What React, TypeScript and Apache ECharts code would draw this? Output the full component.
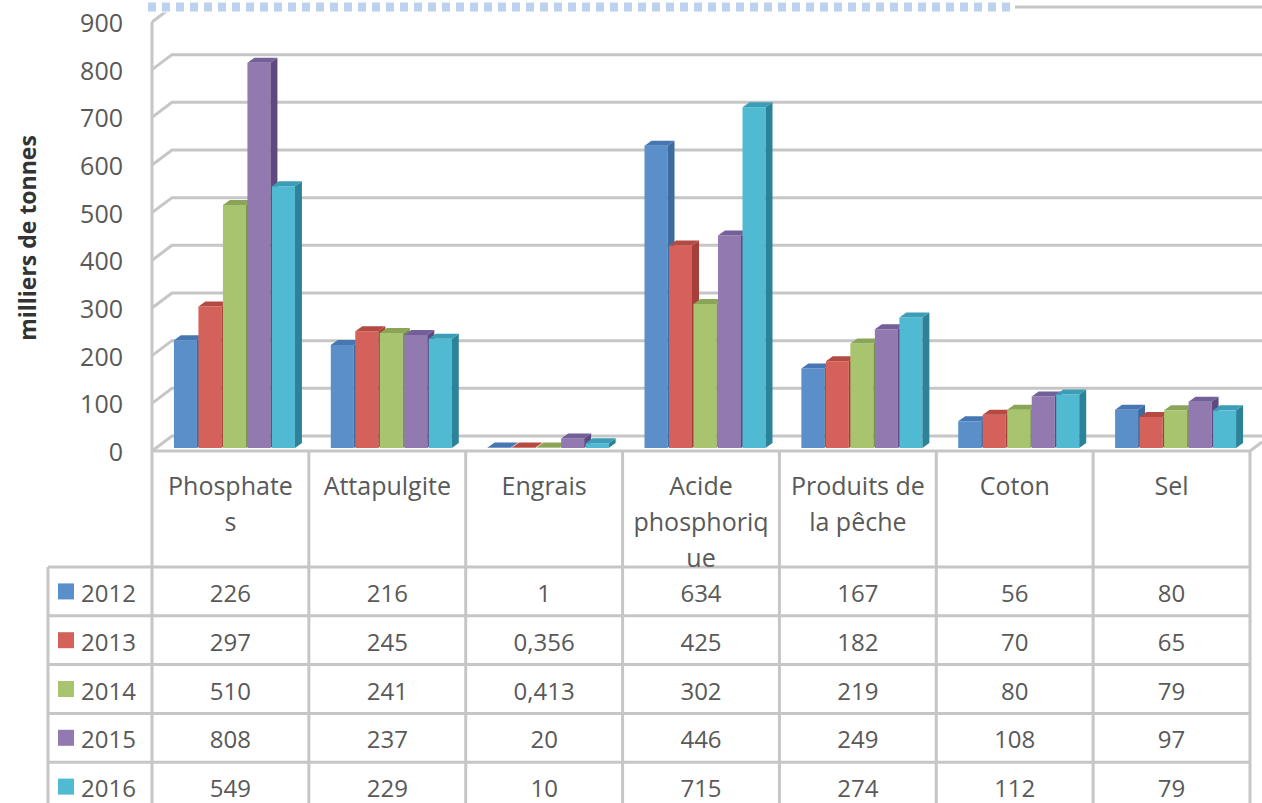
import React, { useEffect, useRef } from "react";
import * as echarts from "echarts";

// ---------- data ----------
const categories = ["Phosphates", "Attapulgite", "Engrais", "Acide phosphorique", "Produits de la pêche", "Coton", "Sel"];
const headerLabels = ["Phosphate\ns", "Attapulgite", "Engrais", "Acide\nphosphoriq\nue", "Produits de\nla pêche", "Coton", "Sel"];
const years = ["2012", "2013", "2014", "2015", "2016"];
const v2012 = [226, 216, 1, 634, 167, 56, 80];
const v2013 = [297, 245, 0.356, 425, 182, 70, 65];
const v2014 = [510, 241, 0.413, 302, 219, 80, 79];
const v2015 = [808, 237, 20, 446, 249, 108, 97];
const v2016 = [549, 229, 10, 715, 274, 112, 79];
const seriesValues = [v2012, v2013, v2014, v2015, v2016];
const yTicks = [0, 100, 200, 300, 400, 500, 600, 700, 800, 900];
const yTitle = "milliers de tonnes";

// ---------- style ----------
const frontColors = ["#5b8fca", "#d5625a", "#a8c46e", "#9279b0", "#4fbad1"];
const sideColors = ["#3d6a9f", "#a63f39", "#7a9748", "#5f4a80", "#2c8399"];
const topColors = ["#4677b3", "#b54a43", "#8aa557", "#73609a", "#3b9db6"];
const FONT = "'Open Sans', 'Noto Sans', sans-serif";
const TEXT = "#595959";
const LINE = "#c6c6c6";

const W = 1262;
const H = 803;
const GL = 152; // grid left
const GR = 1250; // grid right
const GT = 22; // grid top (900, front plane)
const GB = 451; // grid bottom (0, front plane)
const DX = 20; // wall depth
const DY = -15;
const TABLE_HEAD_BOTTOM = 567;
const ROW_H = 48.8;
const ROW_LABEL_LEFT = 48;

const fmt = (v: number) => String(v).replace(".", ",");

export default function App() {
  const ref = useRef<HTMLDivElement>(null);

  useEffect(() => {
    if (!ref.current) return;
    const chart = echarts.init(ref.current, undefined, { renderer: "svg" });

    const colW = (GR - GL) / categories.length;
    const graphic: any[] = [];

    // left wall front edge + table vertical lines
    graphic.push({
      type: "line",
      shape: { x1: GL, y1: GT, x2: GL, y2: H },
      style: { stroke: LINE, lineWidth: 3 },
      z: 1,
    });
    for (let i = 1; i <= categories.length; i++) {
      const x = GL + i * colW;
      graphic.push({
        type: "line",
        shape: { x1: x, y1: GB, x2: x, y2: H },
        style: { stroke: LINE, lineWidth: 3 },
      });
    }
    graphic.push({
      type: "line",
      shape: { x1: ROW_LABEL_LEFT, y1: TABLE_HEAD_BOTTOM, x2: ROW_LABEL_LEFT, y2: H },
      style: { stroke: LINE, lineWidth: 3 },
    });
    for (let r = 0; r <= years.length; r++) {
      const y = TABLE_HEAD_BOTTOM + r * ROW_H;
      graphic.push({
        type: "line",
        shape: { x1: ROW_LABEL_LEFT, y1: y, x2: GR, y2: y },
        style: { stroke: LINE, lineWidth: 3 },
      });
    }
    // header labels
    headerLabels.forEach((lab, i) => {
      graphic.push({
        type: "text",
        x: GL + (i + 0.5) * colW,
        y: 467,
        style: {
          text: lab,
          fill: TEXT,
          font: `25px ${FONT}`,
          align: "center",
          verticalAlign: "top",
          lineHeight: 36,
        },
      });
    });
    // rows
    years.forEach((yr, r) => {
      const cy = TABLE_HEAD_BOTTOM + (r + 0.5) * ROW_H;
      graphic.push({
        type: "rect",
        shape: { x: 58, y: cy - 8, width: 16, height: 16 },
        style: { fill: frontColors[r] },
      });
      graphic.push({
        type: "text",
        x: 81,
        y: cy + 1,
        style: { text: yr, fill: TEXT, font: `24px ${FONT}`, align: "left", verticalAlign: "middle" },
      });
      seriesValues[r].forEach((v, i) => {
        graphic.push({
          type: "text",
          x: GL + (i + 0.5) * colW,
          y: cy + 1,
          style: { text: fmt(v), fill: TEXT, font: `24px ${FONT}`, align: "center", verticalAlign: "middle" },
        });
      });
    });
    // y title
    graphic.push({
      type: "text",
      x: 27,
      y: 238,
      rotation: Math.PI / 2,
      style: {
        text: yTitle,
        fill: "#333333",
        font: `bold 23px ${FONT}`,
        align: "center",
        verticalAlign: "middle",
      },
    });

    const wallSeries = {
      type: "custom",
      coordinateSystem: "cartesian2d",
      clip: false,
      silent: true,
      z: 1,
      data: yTicks.map((v) => [0, v]),
      renderItem: (params: any, api: any) => {
        const cs = params.coordSys;
        const v = api.value(1);
        const y = api.coord([0, v])[1];
        const x0 = cs.x;
        const right = cs.x + cs.width + 12;
        const children: any[] = [
          {
            type: "polyline",
            shape: { points: [[x0, y], [x0 + DX, y + DY], [right, y + DY]] },
            style: { stroke: LINE, lineWidth: 3, fill: null },
          },
        ];
        if (v === yTicks[yTicks.length - 1]) {
          children.push({
            type: "line",
            shape: { x1: x0 - 4, y1: y + DY, x2: 1015, y2: y + DY },
            style: { stroke: "#ffffff", lineWidth: 11 },
          });
          children.push({
            type: "line",
            shape: { x1: x0 - 4, y1: y + DY, x2: 1015, y2: y + DY },
            style: { stroke: "#bcd2ee", lineWidth: 9, lineDash: [8, 6] },
          });
        }
        if (v === 0) {
          children.push({
            type: "polyline",
            shape: { points: [[x0, y], [cs.x + cs.width, y], [right, y - 9]] },
            style: { stroke: LINE, lineWidth: 3, fill: null },
          });
        }
        return { type: "group", children };
      },
    };

    const barSeries = seriesValues.map((vals, s) => ({
      type: "custom",
      name: years[s],
      coordinateSystem: "cartesian2d",
      clip: false,
      z: 2 + s,
      data: vals.map((v, i) => [i, v]),
      renderItem: (params: any, api: any) => {
        const idx = api.value(0);
        const base = api.coord([idx, 0]);
        const top = api.coord([idx, api.value(1)]);
        const bw = 23;
        const step = 24.5;
        const fx = 4;
        const fy = -3;
        const sx = 7;
        const sy = -5;
        const start = base[0] + fx - (step * 4 + bw) / 2;
        const xl = start + s * step;
        const xr = xl + bw;
        const yb = base[1] + fy;
        const yt = Math.min(top[1] + fy, yb - 0.5);
        return {
          type: "group",
          children: [
            {
              type: "rect",
              shape: { x: xl, y: yt, width: bw, height: yb - yt },
              style: { fill: frontColors[s] },
            },
            {
              type: "polygon",
              shape: { points: [[xr, yt], [xr + sx, yt + sy], [xr + sx, yb + sy], [xr, yb]] },
              style: { fill: sideColors[s] },
            },
            {
              type: "polygon",
              shape: { points: [[xl, yt], [xl + sx, yt + sy], [xr + sx, yt + sy], [xr, yt]] },
              style: { fill: topColors[s] },
            },
          ],
        };
      },
    }));

    chart.setOption({
      animation: false,
      backgroundColor: "#ffffff",
      grid: { left: GL, right: W - GR, top: GT, bottom: H - GB, containLabel: false },
      xAxis: {
        type: "category",
        data: categories,
        boundaryGap: true,
        axisLine: { show: false },
        axisTick: { show: false },
        axisLabel: { show: false },
        splitLine: { show: false },
      },
      yAxis: {
        type: "value",
        min: 0,
        max: 900,
        interval: 100,
        axisLine: { show: false },
        axisTick: { show: false },
        splitLine: { show: false },
        axisLabel: {
          margin: 29,
          fontSize: 25,
          fontFamily: FONT,
          color: TEXT,
        },
      },
      graphic,
      series: [wallSeries, ...barSeries],
    });

    return () => chart.dispose();
  }, []);

  return (
    <div
      ref={ref}
      style={{ position: "fixed", left: 0, top: 0, width: W, height: H, background: "#fff" }}
    />
  );
}
